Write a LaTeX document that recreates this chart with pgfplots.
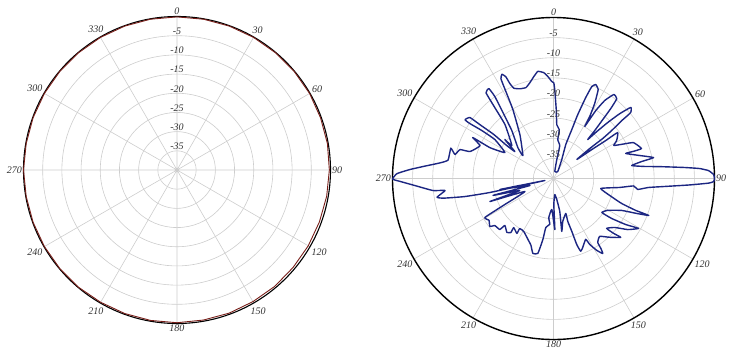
\documentclass[border=0pt]{standalone}
\usepackage{pgfplots}
\pgfplotsset{compat=1.18}
\usepgfplotslibrary{polar}
\usepackage{pgfplotstable}
\usepackage{fontspec}
\setmainfont{Liberation Serif}
\definecolor{gridc}{RGB}{205,205,205}
\definecolor{navy}{RGB}{28,38,130}
\definecolor{curvered}{RGB}{120,30,25}
\definecolor{lblc}{RGB}{50,50,50}

\pgfplotstableread{
a db
0 -0.1
10 -0.1
20 -0.1
30 -0.1
40 -0.1
50 -0.1
60 -0.1
70 -0.2
80 -0.2
90 -0.3
100 -0.4
110 -0.5
120 -0.5
130 -0.5
140 -0.4
150 -0.4
160 -0.3
170 -0.3
180 -0.2
190 -0.2
200 -0.2
210 -0.2
220 -0.1
230 -0.1
240 -0.1
250 -0.1
260 -0.1
270 0.0
280 -0.1
290 -0.1
300 -0.1
310 -0.1
320 -0.1
330 -0.1
340 -0.1
350 -0.1
360 -0.1
}\leftdata

\pgfplotstableread{
a db
0.2 -16.2
0.8 -17.9
2.3 -22.9
3.5 -26.6
6.8 -27.8
6.3 -30.3
10.8 -31.7
9.9 -35.2
10.5 -38.2
31.6 -38.0
23.6 -34.9
19.9 -31.0
20.5 -27.0
20.8 -23.0
21.7 -18.4
22.6 -15.3
24.2 -14.4
26.7 -15.3
28.8 -18.8
30.3 -22.2
31.0 -24.9
31.9 -20.1
33.3 -16.8
35.7 -14.3
38.4 -14.7
39.3 -17.5
39.9 -20.9
40.7 -24.3
41.3 -27.1
42.7 -24.1
44.1 -20.6
45.6 -17.0
47.4 -13.9
49.5 -14.8
49.7 -17.8
50.5 -21.3
50.9 -24.2
50.4 -28.3
50.8 -32.5
52.9 -28.1
54.0 -24.0
54.4 -20.4
59.0 -21.7
61.3 -22.9
64.2 -20.1
65.9 -18.2
71.2 -16.9
71.2 -19.2
70.9 -21.0
75.1 -17.8
78.2 -14.6
79.1 -17.7
80.6 -20.3
82.5 -17.1
83.6 -13.5
85.2 -7.3
86.1 -3.6
87.1 -1.4
88.6 -0.2
90.0 0.0
91.1 -0.2
91.7 -1.4
92.7 -6.1
94.1 -12.3
95.4 -16.3
97.4 -18.9
95.3 -20.0
97.7 -23.4
101.9 -28.0
106.8 -25.4
110.1 -22.0
111.2 -18.1
111.2 -14.6
112.8 -17.6
115.1 -21.3
120.5 -24.4
125.1 -25.3
124.5 -22.5
122.5 -18.7
120.4 -15.5
124.5 -17.6
128.6 -20.5
133.2 -21.9
132.4 -19.8
131.2 -17.8
136.3 -19.8
141.4 -21.6
145.3 -20.7
145.9 -19.0
146.7 -17.7
149.0 -19.2
151.2 -21.3
152.1 -22.9
157.0 -21.4
159.5 -20.7
160.6 -22.6
160.9 -26.1
161.6 -28.8
160.6 -30.8
167.8 -29.1
171.1 -26.7
169.2 -31.7
171.1 -34.7
175.4 -36.0
179.3 -33.5
178.5 -27.3
183.1 -32.3
186.9 -30.2
184.6 -28.6
188.9 -27.7
189.9 -24.6
191.8 -21.0
195.4 -20.7
198.7 -22.5
202.8 -23.6
209.3 -24.9
214.0 -25.0
213.7 -23.6
219.0 -24.3
218.3 -22.9
220.9 -22.3
226.0 -23.2
226.5 -21.6
231.3 -21.3
233.0 -20.2
237.0 -20.9
240.4 -20.4
241.9 -26.3
245.6 -32.2
250.1 -23.2
250.4 -31.1
254.4 -24.4
253.5 -33.9
258.4 -26.4
257.0 -37.8
257.5 -31.4
257.6 -23.8
258.5 -17.5
259.9 -12.1
260.9 -10.7
263.7 -12.9
264.3 -9.9
267.1 -5.5
268.9 -1.9
269.8 0.0
271.8 -1.1
273.6 -4.3
275.5 -7.9
277.8 -11.5
279.9 -13.4
286.5 -13.4
283.7 -14.8
287.2 -15.7
287.9 -18.2
294.1 -20.0
296.9 -17.5
295.9 -22.4
298.1 -26.3
303.6 -22.5
303.8 -18.6
303.3 -15.1
303.6 -13.6
306.1 -14.3
306.2 -17.3
306.4 -21.6
305.2 -25.8
304.9 -28.3
308.7 -24.5
308.4 -26.8
318.0 -22.0
320.4 -17.1
321.8 -12.9
324.3 -12.5
324.4 -15.0
322.5 -19.4
319.0 -24.2
310.9 -28.3
306.8 -30.5
322.5 -26.3
329.5 -20.1
331.3 -15.4
332.2 -12.0
333.7 -11.1
334.9 -12.1
335.3 -14.0
336.3 -15.5
339.5 -16.2
343.1 -16.4
346.1 -15.5
349.1 -14.2
351.7 -13.1
354.8 -13.6
356.8 -14.6
359.0 -15.9
360.2 -16.2
}\rightdata

\pgfplotsset{
  compasspolar/.style={
    scale only axis,
    ymin=0, ymax=40,
    xtick={0,30,...,330},
    xticklabels={90,60,30,0,330,300,270,240,210,180,150,120},
    ytick={5,10,...,35},
    yticklabels={},
    grid=major,
    major grid style={gridc, line width=0.6pt},
    major tick length=0pt,
    xticklabel style={font=\fontsize{10}{12}\selectfont\itshape, text=lblc, inner sep=1.5pt},
    y axis line style={draw=none},
    clip=false,
  },
}
\tikzset{rlab/.style={anchor=south, font=\fontsize{10}{12}\selectfont\itshape, text=lblc, inner sep=0.8pt}}

\begin{document}
\begin{tikzpicture}
\path[use as bounding box] (0,0) rectangle (737pt,360pt);
\begin{polaraxis}[compasspolar, width=307pt, height=307pt,
  at={(177pt,190pt)}, anchor=origin,
  axis line style={black, line width=1.1pt}]
\addplot[curvered, line width=0.9pt, no marks] table[x expr={90-\thisrow{a}}, y expr={\thisrow{db}+40}] {\leftdata};
\node[rlab] at (axis cs:90,35) {-5};
\node[rlab] at (axis cs:90,30) {-10};
\node[rlab] at (axis cs:90,25) {-15};
\node[rlab] at (axis cs:90,20) {-20};
\node[rlab] at (axis cs:90,15) {-25};
\node[rlab] at (axis cs:90,10) {-30};
\node[rlab] at (axis cs:90,5) {-35};
\end{polaraxis}
\begin{polaraxis}[compasspolar, width=322pt, height=322pt,
  at={(553.5pt,181.5pt)}, anchor=origin,
  axis line style={black, line width=1.4pt}]
\addplot[navy, line width=1.4pt, no marks, smooth, tension=0.25, line join=round] table[x expr={90-\thisrow{a}}, y expr={\thisrow{db}+40}] {\rightdata};
\node[rlab] at (axis cs:90,35) {-5};
\node[rlab] at (axis cs:90,30) {-10};
\node[rlab] at (axis cs:90,25) {-15};
\node[rlab] at (axis cs:90,20) {-20};
\node[rlab] at (axis cs:90,15) {-25};
\node[rlab] at (axis cs:90,10) {-30};
\node[rlab] at (axis cs:90,5) {-35};
\end{polaraxis}
\end{tikzpicture}
\end{document}
